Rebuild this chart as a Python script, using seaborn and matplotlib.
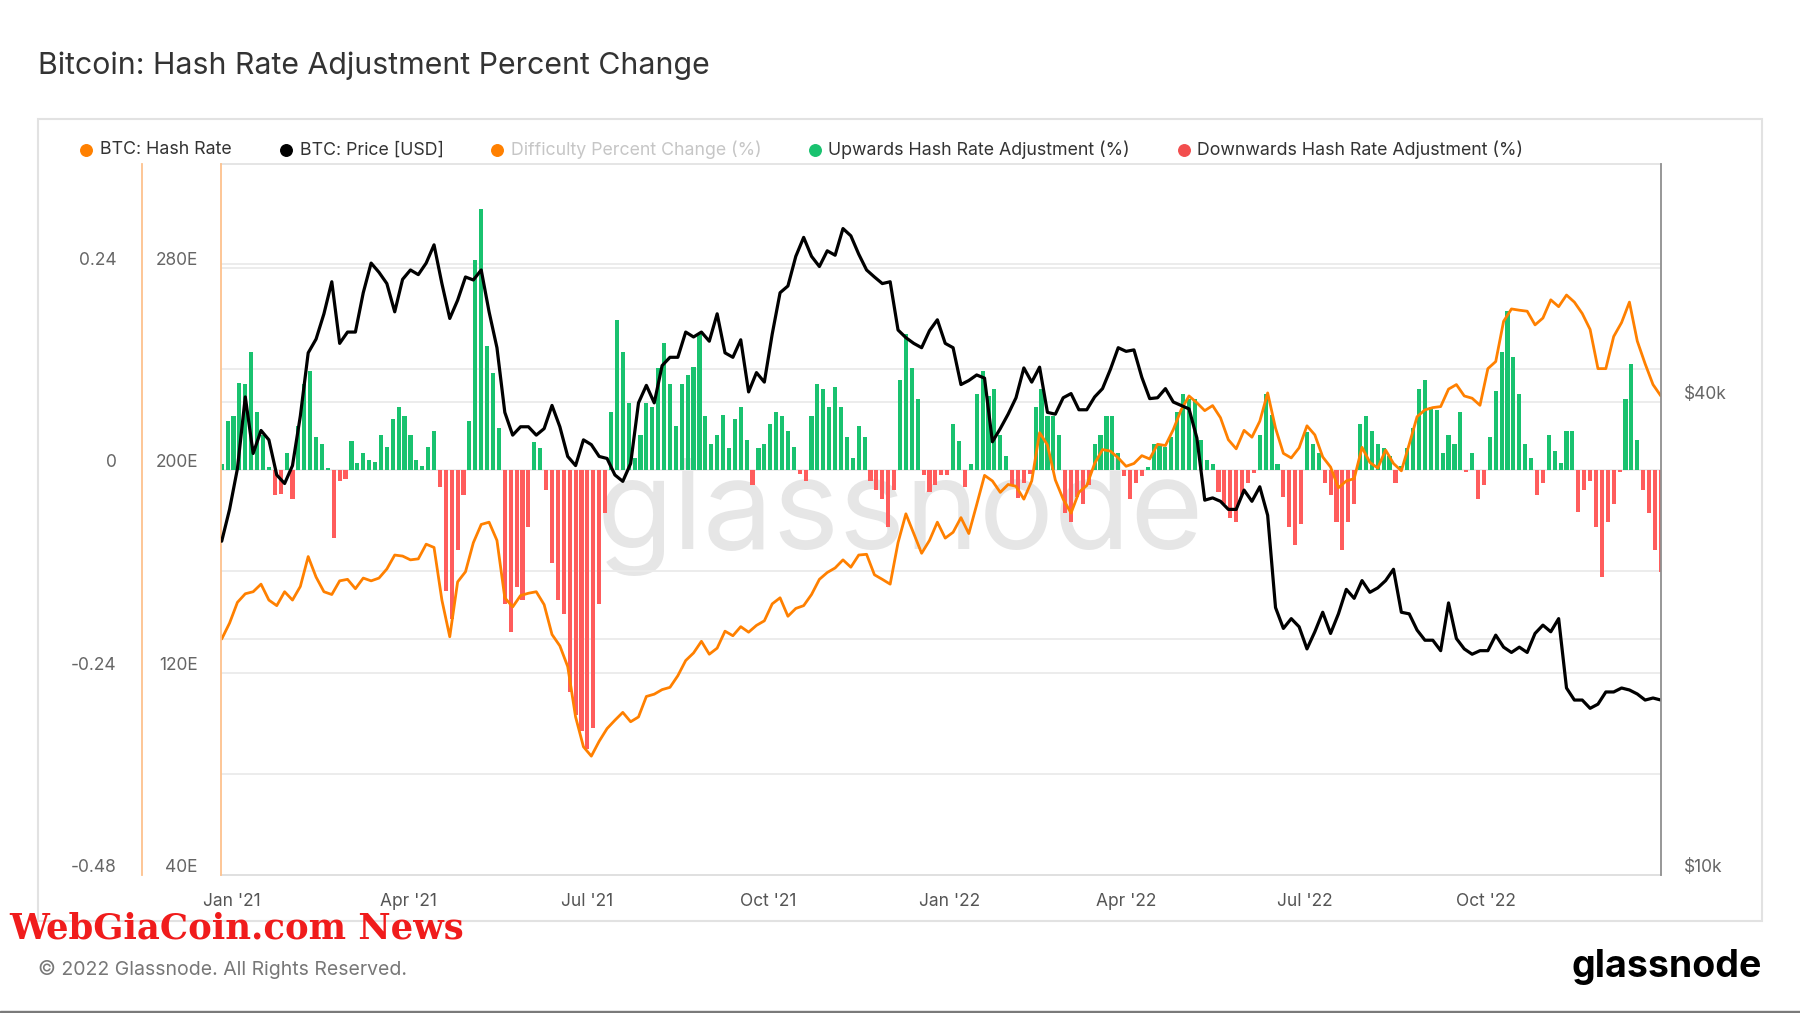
import matplotlib
matplotlib.use('Agg')
import matplotlib.pyplot as plt
import matplotlib.dates as mdates
import matplotlib.transforms as mtransforms
from matplotlib.lines import Line2D
from matplotlib.patches import Rectangle
from matplotlib.ticker import NullLocator
import numpy as np
import pandas as pd
import seaborn as sns

# ---- data ----
# price and hash rate sampled every 4 days starting 2020-12-27
line_dates = pd.date_range('2020-12-27', periods=184, freq='4D')

price_k = [
    26.6, 29.2, 32.9, 40.6, 34.4, 36.8, 35.8, 32.3, 31.5, 33.2, 38.4, 46.2, 48.1, 51.8, 56.9, 47.5,
    49.1, 49.1, 55.1, 60.1, 58.5, 56.6, 52.1, 57.3, 58.9, 58.1, 60.1, 63.4, 56.6, 51.1, 53.9,
    57.7, 57.2, 58.9, 52.1, 46.9, 38.8, 36.3, 37.2, 37.2, 36.3, 37.0, 39.6, 37.2, 34.1, 33.2,
    35.8, 35.3, 34.1, 33.9, 32.3, 31.7, 33.4, 39.9, 42.0, 39.9, 44.5, 45.6, 45.6, 49.1, 48.4,
    49.1, 47.8, 51.8, 46.2, 45.6, 48.0, 41.2, 43.6, 42.4, 48.8, 55.1, 56.2, 61.3, 64.8, 61.3, 59.5,
    62.3, 61.5, 66.5, 65.1, 61.7, 58.9, 57.7, 56.6, 56.9, 49.4, 48.3, 47.5, 46.9, 49.3, 50.9,
    47.5, 46.9, 42.1, 42.6, 43.3, 42.9, 35.6, 37.0, 38.6, 40.5, 44.2, 42.4, 44.3, 38.8, 38.6, 40.5,
    41.0, 39.1, 39.1, 40.6, 41.6, 44.0, 46.9, 46.4, 46.6, 43.0, 40.4, 40.5, 41.6, 40.0, 39.6,
    39.2, 36.0, 30.0, 30.2, 29.9, 29.2, 29.2, 30.9, 29.9, 31.2, 28.7, 21.9, 20.6, 21.2, 20.7,
    19.4, 20.4, 21.6, 20.3, 21.5, 23.1, 22.5, 23.7, 22.9, 23.2, 23.7, 24.5, 21.6, 21.5, 20.5,
    19.9, 19.9, 19.3, 22.2, 20.0, 19.4, 19.1, 19.3, 19.3, 20.2, 19.5, 19.2, 19.5, 19.2, 20.3, 20.8,
    20.4, 21.2, 17.3, 16.7, 16.7, 16.3, 16.5, 17.1, 17.1, 17.3, 17.2, 17.0, 16.7, 16.8, 16.7,
]

hash_rate = [
    133.3, 139.6, 147.8, 151.2, 152.0, 155.0, 148.7, 146.5, 152.0, 148.7, 154.1, 165.9, 157.8, 152.0,
    150.9, 156.3, 156.9, 153.2, 157.4, 156.3, 157.4, 161.0, 166.5, 166.1, 164.6, 165.0, 170.8, 169.5,
    148.7, 134.2, 155.9,
    159.9, 171.4, 178.6, 179.5, 172.3, 149.6, 146.0, 150.5, 151.4, 152.0, 146.9, 135.1, 130.6, 122.4,
    102.5, 90.7, 87.0, 92.9, 97.9, 101.2, 104.3, 100.6, 102.5, 110.6, 111.5, 113.3, 114.2, 118.8,
    124.8, 127.8,
    132.4, 127.3, 129.7, 136.4, 134.6, 138.2, 136.0, 138.7, 140.5, 147.2, 149.6, 142.3, 145.4, 146.5,
    150.9, 156.9, 159.6, 161.4, 164.6, 161.7, 166.5, 166.8, 158.7, 156.9, 155.0, 171.4, 182.8, 175.0,
    167.2, 172.3, 179.5,
    173.2, 175.5, 181.3, 175.0, 186.4, 198.0, 195.8, 191.3, 194.4, 193.7, 188.6, 195.8, 214.9, 210.0,
    196.2, 188.6, 183.1, 191.3, 194.0, 202.7, 208.2, 207.6, 204.9, 201.6, 202.7, 205.8, 204.5, 210.3,
    209.8, 216.1, 223.9,
    229.4, 226.7, 223.6, 225.6, 220.8, 212.1, 208.5, 215.8, 213.1, 219.4, 230.6, 216.7, 206.7, 204.9,
    208.9, 217.6, 214.0, 205.3, 201.3, 193.1, 195.8, 196.7, 209.1, 203.1, 200.9, 208.0, 202.7, 199.8,
    210.3, 221.2,
    223.9, 224.8, 225.2, 232.1, 233.9, 229.4, 228.5, 225.7, 240.2, 243.0, 258.9, 263.8, 263.3, 262.9,
    257.5, 260.2, 267.4, 264.7, 269.3, 266.5, 262.0, 255.7, 240.2, 240.2, 252.9, 258.4, 266.5, 251.1,
    242.1, 233.9, 229.4,
]

# hash rate adjustment bars sampled every 3 days starting 2020-12-27
bar_dates = pd.date_range('2020-12-27', periods=245, freq='3D')

adjustment = [
    0.007, 0.058, 0.065, 0.103, 0.102, 0.140, 0.069, 0.042, 0.004, -0.029, -0.028, 0.020, -0.034,
    0.053, 0.102, 0.118, 0.039, 0.031, 0.003, -0.080, -0.013, -0.010, 0.035, 0.009, 0.020, 0.012,
    0.010, 0.042, 0.028, 0.061, 0.075, 0.065, 0.042, 0.012, 0.005, 0.028, 0.047, -0.020, -0.143,
    -0.176, -0.094,
    -0.029, 0.058, 0.250, 0.310, 0.148, 0.115, 0.050, -0.159, -0.192, -0.138, -0.154, -0.067, 0.034,
    0.026, -0.023, -0.110, -0.154, -0.170, -0.263, -0.290, -0.309, -0.330, -0.306, -0.159, -0.051,
    0.069, 0.178, 0.140, 0.080, 0.015, 0.042, 0.080, 0.075, 0.121, 0.151, 0.102, 0.053, 0.102, 0.113,
    0.123,
    0.163, 0.064, 0.031, 0.042, 0.066, 0.026, 0.061, 0.075, 0.036, -0.018, 0.026, 0.031, 0.055,
    0.069, 0.064, 0.047, 0.028, -0.004, -0.013, 0.064, 0.102, 0.096, 0.075, 0.099, 0.075, 0.039,
    0.015, 0.053, 0.039, -0.013, -0.023, -0.034, -0.067, -0.023, 0.107, 0.162, 0.121, 0.085, -0.005,
    -0.026, -0.018,
    -0.005, -0.006, 0.055, 0.035, -0.020, 0.007, 0.091, 0.118, 0.088, 0.096, 0.042, 0.017, -0.018,
    -0.033, -0.015, -0.004, 0.075, 0.096, 0.064, 0.064, 0.042, -0.051, -0.061, -0.032, -0.040,
    -0.018, 0.031, 0.042, 0.064, 0.064, 0.020, -0.007, -0.034, -0.015, -0.007, 0.004, 0.031, 0.031,
    0.028, 0.039, 0.069,
    0.091, 0.085, 0.085, 0.036, 0.012, 0.007, -0.026, -0.040, -0.056, -0.061, -0.029, -0.015, -0.003,
    0.042, 0.091, 0.066, 0.007, -0.032, -0.067, -0.089, -0.064, 0.045, 0.031, 0.020, -0.015, -0.029,
    -0.061, -0.094, -0.061, -0.040, 0.055, 0.064, 0.047, 0.031, 0.026, 0.017, -0.015, 0.005, 0.026,
    0.050, 0.096,
    0.107, 0.075, 0.072, 0.020, 0.042, 0.031, 0.069, -0.002, 0.020, -0.034, -0.018, 0.039, 0.094,
    0.140, 0.189, 0.134, 0.091, 0.031, 0.015, -0.029, -0.015, 0.042, 0.023, 0.009, 0.047, 0.047,
    -0.049, -0.023, -0.013, -0.067, -0.127, -0.061, -0.040, -0.002, 0.085, 0.126, 0.036, -0.023,
    -0.051, -0.094, -0.121,
]

diff_ticks = [-0.48, -0.24, 0, 0.24]
diff_labels = ['-0.48', '-0.24', '0', '0.24']
hash_ticks = [40, 120, 200, 280]
hash_labels = ['40E', '120E', '200E', '280E']
price_ticks = [10, 40]
price_labels = ['\\$10k', '\\$40k']

ORANGE = '#ff8000'
GREEN = '#19c26f'
RED = '#ff5c5c'
LIGHT_ORANGE = '#fdc28e'

sns.set_theme(style='white')
plt.rcParams['font.family'] = ['Inter', 'DejaVu Sans']

fig = plt.figure(figsize=(18, 10.13), dpi=100)
fig.patch.set_facecolor('white')

# outer panel
fig.add_artist(Rectangle((0.0211, 0.0908), 0.9578, 0.7917, transform=fig.transFigure,
                         facecolor='white', edgecolor='#e2e2e2', lw=1.5, zorder=-3))
# watermark
fig.text(0.5, 0.458, 'glassnode', ha='center', va='baseline', fontsize=90,
         color='#e6e6e6', zorder=-2)

ax = fig.add_axes([0.1228, 0.1362, 0.8, 0.7019])
ax.patch.set_visible(False)
ax2 = ax.twinx()
ax3 = ax.twinx()

# bars
diff = np.array(adjustment)
bar_colors = np.where(diff >= 0, GREEN, RED)
ax.bar(bar_dates, diff, width=2.1, color=bar_colors, linewidth=0, zorder=3)

# lines
df = pd.DataFrame({'date': line_dates, 'hash_rate': hash_rate, 'price': price_k})
sns.lineplot(data=df, x='date', y='hash_rate', ax=ax2, color=ORANGE, linewidth=2.0,
             estimator=None, legend=False)
sns.lineplot(data=df, x='date', y='price', ax=ax3, color='black', linewidth=2.3,
             estimator=None, legend=False)
for a in (ax, ax2, ax3):
    a.set_xlabel('')
    a.set_ylabel('')

# limits
ax.set_xlim(pd.Timestamp('2020-12-26 16:00'), pd.Timestamp('2022-12-29 02:00'))
ax.set_ylim(-0.48, 0.3633)
ax2.set_ylim(40, 321.1)
ax3.set_yscale('log')
ax3.set_ylim(10, 80.35)

# gridlines drawn on the bottom axes (difficulty units)
def to_diff_units(v, src):
    ypix = src.transData.transform((0, v))[1]
    return ax.transData.inverted().transform((0, ypix))[1]

grid_vals = [0.24, 0.12, 0, -0.12, -0.24, -0.36]
grid_vals += [to_diff_units(p, ax3) for p in (20, 40, 60)]
for g in grid_vals:
    ax.axhline(g, color='#ebebeb', lw=1.3, zorder=0)

# spines
ax.spines['left'].set_position(('outward', 57.2))
ax.spines['left'].set_color(LIGHT_ORANGE)
ax.spines['left'].set_linewidth(1.3)
ax.spines['right'].set_visible(False)
ax.spines['top'].set_color('#e2e2e2')
ax.spines['bottom'].set_color('#dcdcdc')
for s in ('top', 'bottom', 'right'):
    ax2.spines[s].set_visible(False)
ax2.spines['left'].set_color(LIGHT_ORANGE)
ax2.spines['left'].set_linewidth(1.3)
for s in ('top', 'bottom', 'left'):
    ax3.spines[s].set_visible(False)
ax3.spines['right'].set_color('#8f8f8f')
ax3.spines['right'].set_linewidth(1.3)

# y axes
ax.set_yticks(diff_ticks)
ax.set_yticklabels(diff_labels)
ax2.set_yticks(hash_ticks)
ax2.set_yticklabels(hash_labels)
ax3.set_yticks(price_ticks)
ax3.set_yticklabels(price_labels)
ax3.yaxis.set_minor_locator(NullLocator())

ax2.yaxis.tick_left()
ax2.yaxis.set_label_position('left')

ax.tick_params(axis='y', length=0, pad=17.8, labelsize=12.5, labelcolor='#666666')
ax2.tick_params(axis='y', length=0, pad=16.6, labelsize=12.5, labelcolor='#666666')
ax3.tick_params(axis='y', which='both', length=0, pad=16.6, labelsize=12.5, labelcolor='#666666')

# x axis
ax.xaxis.set_major_locator(mdates.MonthLocator(bymonth=[1, 4, 7, 10]))
ax.xaxis.set_major_formatter(mdates.DateFormatter("%b '%y"))
ax.tick_params(axis='x', length=7, width=1, color='#e0e0e0', pad=6,
               labelsize=12.5, labelcolor='#555555')

# y tick labels sit a little above their gridline
lift = mtransforms.ScaledTranslation(0, 0.095, fig.dpi_scale_trans)
for a in (ax, ax2, ax3):
    for lbl in a.get_yticklabels():
        lbl.set_transform(lbl.get_transform() + lift)

# legend row
legend_items = [
    (0.0478, 0.0556, ORANGE, 'BTC: Hash Rate', '#333333'),
    (0.1589, 0.1665, 'black', 'BTC: Price [USD]', '#333333'),
    (0.2761, 0.2838, ORANGE, 'Difficulty Percent Change (%)', '#c6c6c6'),
    (0.4528, 0.4598, GREEN, 'Upwards Hash Rate Adjustment (%)', '#333333'),
    (0.6578, 0.6652, '#f24e4e', 'Downwards Hash Rate Adjustment (%)', '#333333'),
]
for dx, tx, c, label, tc in legend_items:
    fig.add_artist(Line2D([dx], [0.852], marker='o', markersize=8.3, color=c,
                          linestyle='none', transform=fig.transFigure))
    fig.text(tx, 0.852, label, fontsize=12.8, color=tc, va='center')

fig.text(0.0211, 0.935, 'Bitcoin: Hash Rate Adjustment Percent Change', fontsize=21.8,
         color='#333333', va='center')
fig.text(0.0211, 0.0425, '\u00a9 2022 Glassnode. All Rights Reserved.', fontsize=14,
         color='#777777', va='center')
fig.text(0.9789, 0.0458, 'glassnode', ha='right', va='center', fontsize=27,
         fontweight='bold', color='black')
fig.text(0.005, 0.0835, 'WebGiaCoin.com News', ha='left', va='center', fontsize=25.5,
         fontweight='bold', color='#f01c1c', family=['DejaVu Serif'], zorder=8)
fig.add_artist(Rectangle((0, 0), 1, 2.5 / 1013, transform=fig.transFigure,
                         color='#7a7a7a', zorder=9))

fig.savefig('out.png', dpi=100)
